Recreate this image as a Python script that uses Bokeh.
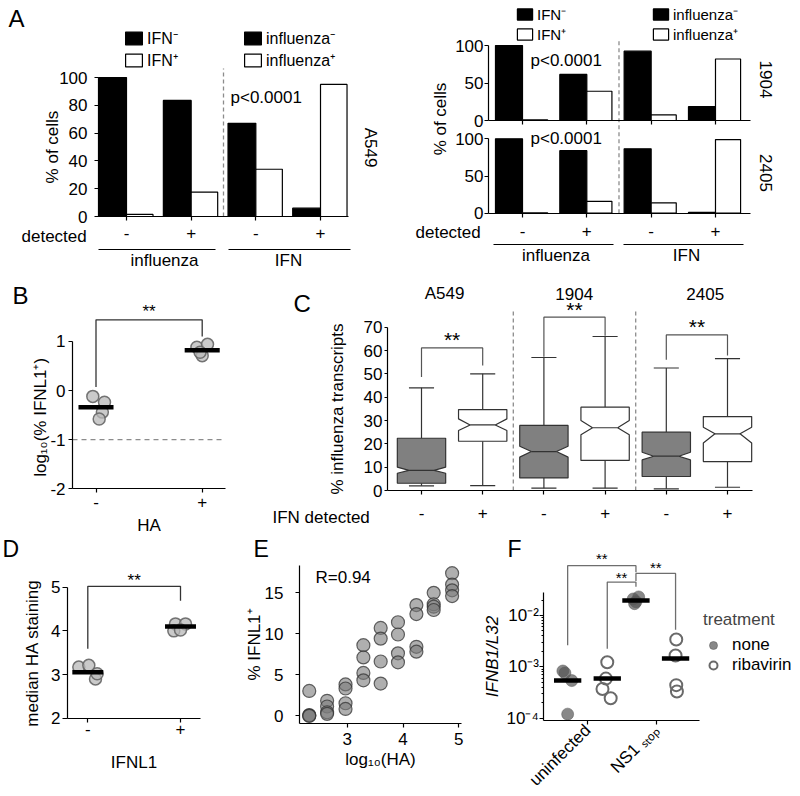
import math
from bokeh.plotting import figure
from bokeh.models import (LinearAxis, LogAxis, Range1d, FixedTicker, LogTicker, Legend, LegendItem,
                          CustomJSTickFormatter, ColumnDataSource, LogScale)
from bokeh.layouts import row, column
from bokeh.embed import file_html
from bokeh.resources import INLINE
from bokeh.core.properties import value
from bokeh.transform import dodge

FONT = "Liberation Sans"

# ======================= DATA =======================
# Panel A : % of cells (section "influenza" = groups 1,2 ; section "IFN" = groups 3,4)
a_flu_groups = [1, 2]
a_ifn_groups = [3, 4]
a_tick_labels = ["-", "+", "-", "+"]
a549_flu_ifn_neg = [100, 83.5]
a549_flu_ifn_pos = [1.5, 17.5]
a549_ifn_flu_neg = [67, 6]
a549_ifn_flu_pos = [34, 95]
c1904_flu_ifn_neg = [100, 61.5]
c1904_flu_ifn_pos = [1, 39]
c1904_ifn_flu_neg = [92.5, 18.5]
c1904_ifn_flu_pos = [7.5, 82]
c2405_flu_ifn_neg = [100, 84]
c2405_flu_ifn_pos = [0.5, 16]
c2405_ifn_flu_neg = [86.5, 1]
c2405_ifn_flu_pos = [14, 99]

# Panel B : log10(% IFNL1+) by HA
b_labels = ["-", "+"]
b_yticks = [-2, -1, 0, 1]
b_ytick_labels = ["-2", "-1", "0", "1"]
b_group = [0, 0, 0, 0, 1, 1, 1, 1]
b_jitter = [-0.03, 0.08, 0.06, 0.03, -0.05, 0.05, 0.0, -0.02]
b_vals = [-0.12, -0.24, -0.44, -0.58, 0.88, 0.94, 0.71, 0.78]
b_means = [-0.34, 0.82]
b_sig = [0.07, 1.44, 1.10]   # left foot, top, right foot

# Panel C : notched boxes, % influenza transcripts
c_lines = ["A549", "1904", "2405"]
c_ifn = ["-", "+", "-", "+", "-", "+"]
c_low = [2.0, 2.1, 1.0, 1.0, 0.7, 1.4]
c_q1 = [3.1, 21.1, 5.4, 12.9, 6.0, 12.4]
c_notch_lo = [7.4, 25.7, 14.3, 23.9, 13.1, 20.4]
c_med = [8.6, 28.1, 16.7, 26.9, 14.7, 24.3]
c_notch_hi = [10.0, 30.7, 19.0, 30.0, 16.4, 27.1]
c_q3 = [22.4, 34.7, 27.9, 35.7, 25.0, 31.7]
c_high = [44.0, 50.0, 57.0, 66.0, 52.5, 56.5]
c_sig_left = [48.6, 57.3, 56.0]
c_sig_top = [61.1, 74.3, 66.7]
c_sig_right = [53.6, 66.3, 57.9]

# Panel D : median HA staining by IFNL1
d_labels = ["-", "+"]
d_group = [0, 0, 0, 0, 1, 1, 1, 1]
d_jitter = [-0.097, 0.011, 0.083, 0.101, -0.054, 0.054, -0.072, 0.0]
d_vals = [3.17, 3.21, 2.90, 3.02, 4.16, 4.16, 4.00, 4.02]
d_means = [3.05, 4.10]
d_sig = [3.59, 5.02, 4.69]

# Panel E : % IFNL1+ vs log10(HA)
e_log_ha = [2.32] * 4 + [2.64] * 4 + [2.97] * 4 + [3.29] * 4 + [3.60] * 4 + \
           [3.91] * 4 + [4.24] * 4 + [4.55] * 4 + [4.88] * 4
e_ifnl1 = [3.0, 0.05, 0.0, -0.05,
           1.8, 1.1, 0.4, 0.2,
           3.8, 3.3, 1.5, 0.8,
           8.6, 7.1, 5.2, 4.3,
           10.7, 9.4, 6.6, 3.9,
           11.4, 9.9, 7.6, 6.5,
           13.5, 12.4, 8.4, 7.8,
           15.0, 13.6, 13.3, 12.9,
           17.4, 16.0, 15.3, 14.6]

# Panel F : IFNB1/L32
f_groups = ["uninfected", "NS1 \u209b\u209c\u2092\u209a"]
f_none_vals = [[8.3e-4, 7.6e-4, 5.4e-4, 1.2e-4], [2.3e-2, 2.1e-2, 1.85e-2, 1.7e-2]]
f_none_jit = [[-0.07, -0.04, 0.06, 0.0], [0.04, -0.04, 0.0, -0.02]]
f_rib_vals = [[1.23e-3, 5.9e-4, 3.7e-4, 2.45e-4], [3.4e-3, 1.66e-3, 4.4e-4, 3.3e-4]]
f_rib_jit = [[0.0, -0.02, -0.07, 0.05], [0.01, 0.0, 0.01, 0.02]]
f_none_center = [5.4e-4, 1.96e-2]
f_rib_center = [5.9e-4, 1.45e-3]
# brackets: (left group, left treatment), (right group, right treatment), left foot, top, right foot
f_sig = [((0, "none"), (1, "none"), 2.63e-3, 9.33e-2, 6.92e-2),
         ((0, "rib"), (1, "none"), 2.24e-3, 4.47e-2, 3.63e-2),
         ((1, "none"), (1, "rib"), 4.68e-2, 6.61e-2, 5.25e-3)]


# ======================= HELPERS =======================
class PanelMap:
    """maps reference-pixel positions to the data space of one canvas"""
    def __init__(self, X0, X1, Y0, Y1, xref, xv, xppu, yref, yv, yppu, ylog=False):
        self.X0, self.X1, self.Y0, self.Y1 = X0, X1, Y0, Y1
        self.xref, self.xv, self.xppu = xref, xv, xppu
        self.yref, self.yv, self.yppu = yref, yv, yppu
        self.ylog = ylog

    def x(self, X):
        return self.xv + (X - self.xref) / self.xppu

    def y(self, Y):
        v = self.yv + (self.yref - Y) / self.yppu
        return 10 ** v if self.ylog else v

    def make(self):
        p = figure(width=int(round(self.X1 - self.X0)), height=int(round(self.Y1 - self.Y0)),
                   x_range=Range1d(self.x(self.X0), self.x(self.X1)),
                   y_range=Range1d(self.y(self.Y1), self.y(self.Y0)),
                   x_axis_type=None, y_axis_type=None, output_backend="svg",
                   toolbar_location=None, title=None)
        if self.ylog:
            p.y_scale = LogScale()
        p.min_border = 0
        p.min_border_left = 0
        p.min_border_right = 0
        p.min_border_top = 0
        p.min_border_bottom = 0
        p.outline_line_color = None
        p.background_fill_color = "white"
        p.border_fill_color = "white"
        return p


def style_axis(ax, size="17px", tick_out=4, standoff=4, label_standoff=4):
    ax.axis_line_color = "black"
    ax.axis_line_width = 1.2
    ax.major_tick_line_color = "black"
    ax.major_tick_line_width = 1.2
    ax.major_tick_in = 0
    ax.major_tick_out = tick_out
    ax.minor_tick_line_color = None
    ax.major_label_text_font = FONT
    ax.major_label_text_font_size = size
    ax.major_label_text_color = "black"
    ax.major_label_standoff = standoff
    ax.axis_label_text_font = FONT
    ax.axis_label_text_font_size = size
    ax.axis_label_text_font_style = "normal"
    ax.axis_label_text_color = "black"
    ax.axis_label_standoff = label_standoff
    return ax


def txt(p, x, y, s, size="17px", align="left", baseline="middle", angle=0.0,
        style="normal", color="black", y_range_name="default"):
    p.text(x=[x], y=[y], text=[s], text_font=value(FONT), text_font_size=size,
           text_align=align, text_baseline=baseline, angle=angle, text_font_style=style,
           text_color=color, y_range_name=y_range_name)


def legend(p, items, loc, size="17px", gw=21, gh=16, standoff=3):
    lg = Legend(items=items, location=loc, orientation="vertical")
    lg.padding = 0
    lg.margin = 0
    lg.spacing = 0
    lg.border_line_color = None
    lg.background_fill_alpha = 0
    lg.glyph_width = gw
    lg.glyph_height = gh
    lg.label_height = 8
    lg.label_standoff = standoff
    lg.label_text_font = FONT
    lg.label_text_font_size = size
    lg.label_text_color = "black"
    p.add_layout(lg)
    return lg


BAR_KW = dict(line_color="black", line_width=1.2)
ROW2_BOTTOM = 535

# ======================= PANEL A (A549) =======================
mA1 = PanelMap(0, 388, 0, 270, xref=126, xv=1, xppu=64.67, yref=216, yv=0, yppu=1.39)
pA1 = mA1.make()
sA1f = ColumnDataSource(dict(g=a_flu_groups, neg=a549_flu_ifn_neg, pos=a549_flu_ifn_pos))
sA1i = ColumnDataSource(dict(g=a_ifn_groups, neg=a549_ifn_flu_neg, pos=a549_ifn_flu_pos))
rA1 = pA1.vbar(x=dodge("g", -0.215), top="neg", width=0.43, source=sA1f, fill_color="black", **BAR_KW)
rA2 = pA1.vbar(x=dodge("g", 0.205), top="pos", width=0.41, source=sA1f, fill_color="white", **BAR_KW)
rA3 = pA1.vbar(x=dodge("g", -0.215), top="neg", width=0.43, source=sA1i, fill_color="black", **BAR_KW)
rA4 = pA1.vbar(x=dodge("g", 0.205), top="pos", width=0.41, source=sA1i, fill_color="white", **BAR_KW)
pA1.segment(x0=[2.5], y0=[0], x1=[2.5], y1=[mA1.y(68)], line_color="#8c8c8c", line_width=1.3, line_dash="4 3")

ya = style_axis(LinearAxis(fixed_location=mA1.x(98), bounds=(0, 100),
                           ticker=FixedTicker(ticks=[0, 20, 40, 60, 80, 100]), axis_label="% of cells"),
                standoff=7, label_standoff=-6)
pA1.add_layout(ya, "left")
xa = style_axis(LinearAxis(fixed_location=0, bounds=(mA1.x(98), mA1.x(348)),
                           ticker=FixedTicker(ticks=[1, 2, 3, 4]),
                           major_label_overrides=dict(zip([1, 2, 3, 4], a_tick_labels))), standoff=6)
pA1.add_layout(xa, "below")

legend(pA1, [LegendItem(label="IFN\u207b", renderers=[rA1]), LegendItem(label="IFN\u207a", renderers=[rA2])],
       (123, 199), size="16px")
legend(pA1, [LegendItem(label="influenza\u207b", renderers=[rA3]), LegendItem(label="influenza\u207a", renderers=[rA4])],
       (242, 199), size="16px")

txt(pA1, mA1.x(8), mA1.y(18), "A", size="24px")
txt(pA1, mA1.x(230), mA1.y(97), "p<0.0001")
txt(pA1, mA1.x(370), mA1.y(147), "A549", align="center", angle=-math.pi / 2)
txt(pA1, mA1.x(21), mA1.y(236), "detected")
pA1.segment(x0=[mA1.x(98), mA1.x(228)], y0=[mA1.y(249)] * 2, x1=[mA1.x(215), mA1.x(350)], y1=[mA1.y(249)] * 2,
            line_color="black", line_width=1.2)
txt(pA1, mA1.x(164), mA1.y(260), "influenza", align="center")
txt(pA1, mA1.x(288), mA1.y(260), "IFN", align="center")

# ======================= PANEL A (1904 / 2405) =======================
mA2 = PanelMap(388, 796, 0, 270, xref=522, xv=1, xppu=64.33, yref=212.7, yv=0, yppu=0.744)
pA2 = mA2.make()


def ytop(Y):
    return (120 - Y) / 0.75


pA2.extra_y_ranges = {"top": Range1d(ytop(270), ytop(0))}

sT_f = ColumnDataSource(dict(g=a_flu_groups, neg=c1904_flu_ifn_neg, pos=c1904_flu_ifn_pos))
sT_i = ColumnDataSource(dict(g=a_ifn_groups, neg=c1904_ifn_flu_neg, pos=c1904_ifn_flu_pos))
sB_f = ColumnDataSource(dict(g=a_flu_groups, neg=c2405_flu_ifn_neg, pos=c2405_flu_ifn_pos))
sB_i = ColumnDataSource(dict(g=a_ifn_groups, neg=c2405_ifn_flu_neg, pos=c2405_ifn_flu_pos))
rT1 = pA2.vbar(x=dodge("g", -0.21), top="neg", width=0.42, source=sT_f, fill_color="black", y_range_name="top", **BAR_KW)
rT2 = pA2.vbar(x=dodge("g", 0.195), top="pos", width=0.39, source=sT_f, fill_color="white", y_range_name="top", **BAR_KW)
rT3 = pA2.vbar(x=dodge("g", -0.21), top="neg", width=0.42, source=sT_i, fill_color="black", y_range_name="top", **BAR_KW)
rT4 = pA2.vbar(x=dodge("g", 0.195), top="pos", width=0.39, source=sT_i, fill_color="white", y_range_name="top", **BAR_KW)
pA2.vbar(x=dodge("g", -0.21), top="neg", width=0.42, source=sB_f, fill_color="black", **BAR_KW)
pA2.vbar(x=dodge("g", 0.195), top="pos", width=0.39, source=sB_f, fill_color="white", **BAR_KW)
pA2.vbar(x=dodge("g", -0.21), top="neg", width=0.42, source=sB_i, fill_color="black", **BAR_KW)
pA2.vbar(x=dodge("g", 0.195), top="pos", width=0.39, source=sB_i, fill_color="white", **BAR_KW)
pA2.segment(x0=[2.5], y0=[0], x1=[2.5], y1=[mA2.y(40)], line_color="#8c8c8c", line_width=1.3, line_dash="4 3")

for rn in ("default", "top"):
    yax = style_axis(LinearAxis(fixed_location=mA2.x(488), bounds=(0, 100), y_range_name=rn,
                                ticker=FixedTicker(ticks=[0, 50, 100])), standoff=1)
    pA2.add_layout(yax, "left")
xb = style_axis(LinearAxis(fixed_location=0, bounds=(mA2.x(488), mA2.x(750)),
                           ticker=FixedTicker(ticks=[1, 2, 3, 4]),
                           major_label_overrides=dict(zip([1, 2, 3, 4], a_tick_labels))), standoff=8)
pA2.add_layout(xb, "below")
xt = style_axis(LinearAxis(fixed_location=0, bounds=(mA2.x(488), mA2.x(750)), y_range_name="top",
                           ticker=FixedTicker(ticks=[1, 2, 3, 4]),
                           major_label_overrides={1: "", 2: "", 3: "", 4: ""}))
pA2.add_layout(xt, "below")

legend(pA2, [LegendItem(label="IFN\u207b", renderers=[rT1]), LegendItem(label="IFN\u207a", renderers=[rT2])],
       (127, 226), size="15px", gw=19, gh=14)
legend(pA2, [LegendItem(label="influenza\u207b", renderers=[rT3]), LegendItem(label="influenza\u207a", renderers=[rT4])],
       (263, 226), size="15px", gw=19, gh=14)

txt(pA2, mA2.x(530), ytop(60), "p<0.0001", y_range_name="top")
txt(pA2, mA2.x(530), mA2.y(138), "p<0.0001")
txt(pA2, mA2.x(765), ytop(79), "1904", align="center", angle=-math.pi / 2, y_range_name="top")
txt(pA2, mA2.x(765), mA2.y(172.5), "2405", align="center", angle=-math.pi / 2)
txt(pA2, mA2.x(439.5), mA2.y(118.5), "% of cells", align="center", angle=math.pi / 2)
txt(pA2, mA2.x(415), mA2.y(232.3), "detected")
pA2.segment(x0=[mA2.x(493), mA2.x(623)], y0=[mA2.y(244)] * 2, x1=[mA2.x(613), mA2.x(743)], y1=[mA2.y(244)] * 2,
            line_color="black", line_width=1.2)
txt(pA2, mA2.x(555.5), mA2.y(255), "influenza", align="center")
txt(pA2, mA2.x(686), mA2.y(255), "IFN", align="center")

# ======================= PANEL B =======================
mB = PanelMap(0, 270, 270, ROW2_BOTTOM, xref=95.5, xv=0, xppu=106.2, yref=390, yv=0, yppu=49.1)
pB = mB.make()
x_left, x_right = mB.x(72), mB.x(225)
pB.segment(x0=[x_left], y0=[-1], x1=[x_right], y1=[-1], line_color="#8c8c8c", line_width=1.3, line_dash="5 4")
pB.scatter(x=[g + j for g, j in zip(b_group, b_jitter)], y=b_vals, size=12, marker="circle",
           fill_color="#b8b8b8", fill_alpha=0.75, line_color="#666666", line_alpha=0.9, line_width=1.5)
pB.segment(x0=[i - 0.165 for i in range(2)], y0=b_means, x1=[i + 0.165 for i in range(2)], y1=b_means,
           line_color="black", line_width=4.5)
pB.multi_line(xs=[[0, 0, 1, 1]], ys=[[b_sig[0], b_sig[1], b_sig[1], b_sig[2]]], line_color="#333333", line_width=1.3)
txt(pB, 0.5, mB.y(308 + 3), "**", size="17px", align="center")
yb = style_axis(LinearAxis(fixed_location=x_left, bounds=(-2, 1), ticker=FixedTicker(ticks=b_yticks),
                           major_label_overrides=dict(zip(b_yticks, b_ytick_labels)),
                           axis_label="log\u2081\u2080(%  IFNL1\u207a)"), standoff=3, label_standoff=-3)
pB.add_layout(yb, "left")
xbb = style_axis(LinearAxis(fixed_location=-2, bounds=(x_left, x_right), ticker=FixedTicker(ticks=[0, 1]),
                            major_label_overrides=dict(zip([0, 1], b_labels)), axis_label="HA"),
                 standoff=3, label_standoff=5)
pB.add_layout(xbb, "below")
txt(pB, mB.x(12), mB.y(295), "B", size="24px")

# ======================= PANEL C =======================
mC = PanelMap(270, 796, 270, ROW2_BOTTOM, xref=421, xv=1, xppu=61.2, yref=490, yv=0, yppu=2.333)
pC = mC.make()
c_pos = list(range(1, 7))
BW, IND, CAP = 0.79, 0.19, 0.41
pC.segment(x0=[2.5, 4.5], y0=[0, 0], x1=[2.5, 4.5], y1=[mC.y(310)] * 2,
           line_color="#8c8c8c", line_width=1.3, line_dash="4 3")
pC.segment(x0=c_pos, y0=c_q3, x1=c_pos, y1=c_high, line_color="#333333", line_width=1.2)
pC.segment(x0=c_pos, y0=c_q1, x1=c_pos, y1=c_low, line_color="#333333", line_width=1.2)
pC.segment(x0=[c - CAP / 2 for c in c_pos], y0=c_high, x1=[c + CAP / 2 for c in c_pos], y1=c_high,
           line_color="#333333", line_width=1.2)
pC.segment(x0=[c - CAP / 2 for c in c_pos], y0=c_low, x1=[c + CAP / 2 for c in c_pos], y1=c_low,
           line_color="#333333", line_width=1.2)
box_xs, box_ys = [], []
for c, q1, nlo, med, nhi, q3 in zip(c_pos, c_q1, c_notch_lo, c_med, c_notch_hi, c_q3):
    h = BW / 2
    box_xs.append([c - h, c + h, c + h, c + h - IND, c + h, c + h, c - h, c - h, c - h + IND, c - h])
    box_ys.append([q1, q1, nlo, med, nhi, q3, q3, nhi, med, nlo])
pC.patches(xs=box_xs, ys=box_ys, fill_color=["#808080" if s == "-" else "white" for s in c_ifn],
           line_color="#333333", line_width=1.2)
pC.segment(x0=[c - BW / 2 + IND for c in c_pos], y0=c_med, x1=[c + BW / 2 - IND for c in c_pos], y1=c_med,
           line_color="#333333", line_width=1.2)
sig_xs = [[2 * i + 1, 2 * i + 1, 2 * i + 2, 2 * i + 2] for i in range(3)]
sig_ys = [[l, t, t, r] for l, t, r in zip(c_sig_left, c_sig_top, c_sig_right)]
pC.multi_line(xs=sig_xs, ys=sig_ys, line_color="#555555", line_width=1.2)
for i, t in enumerate(c_sig_top):
    txt(pC, 2 * i + 1.5, t + 8 / 2.333, "**", size="21px", align="center")
for name, Xc in zip(c_lines, [444, 573.7, 704.7]):
    txt(pC, mC.x(Xc), mC.y(293.3), name, align="center")
yc = style_axis(LinearAxis(fixed_location=mC.x(387), bounds=(0, 70), ticker=FixedTicker(ticks=list(range(0, 71, 10))),
                           axis_label="% influenza transcripts"), tick_out=3, standoff=2, label_standoff=14)
pC.add_layout(yc, "left")
xc = style_axis(LinearAxis(fixed_location=0, bounds=(mC.x(387), mC.x(752)), ticker=FixedTicker(ticks=c_pos),
                           major_label_overrides=dict(zip(c_pos, c_ifn))), standoff=12)
pC.add_layout(xc, "below")
txt(pC, mC.x(272), mC.y(516.7), "IFN detected")
txt(pC, mC.x(293), mC.y(303), "C", size="24px")

# ======================= PANEL D =======================
mD = PanelMap(0, 240, ROW2_BOTTOM, 792, xref=87.3, xv=0, xppu=92.7, yref=586.7, yv=5, yppu=43.67)
pD = mD.make()
dxl, dxr = mD.x(67), mD.x(200)
pD.scatter(x=[g + j for g, j in zip(d_group, d_jitter)], y=d_vals, size=12, marker="circle",
           fill_color="#b8b8b8", fill_alpha=0.75, line_color="#666666", line_alpha=0.9, line_width=1.5)
pD.segment(x0=[i - 0.167 for i in range(2)], y0=d_means, x1=[i + 0.167 for i in range(2)], y1=d_means,
           line_color="black", line_width=4.5)
pD.multi_line(xs=[[0, 0, 1, 1]], ys=[[d_sig[0], d_sig[1], d_sig[1], d_sig[2]]], line_color="#333333", line_width=1.3)
txt(pD, 0.5, mD.y(576.7 + 3), "**", size="17px", align="center")
yd = style_axis(LinearAxis(fixed_location=dxl, bounds=(2, 5), ticker=FixedTicker(ticks=[2, 3, 4, 5]),
                           axis_label="median HA staining"), tick_out=5, standoff=2, label_standoff=6)
pD.add_layout(yd, "left")
xd = style_axis(LinearAxis(fixed_location=2, bounds=(dxl, dxr), ticker=FixedTicker(ticks=[0, 1]),
                           major_label_overrides=dict(zip([0, 1], d_labels)), axis_label="IFNL1"),
                standoff=1, label_standoff=14)
pD.add_layout(xd, "below")
txt(pD, mD.x(2), mD.y(548), "D", size="23px")

# ======================= PANEL E =======================
mE = PanelMap(240, 480, ROW2_BOTTOM, 792, xref=346.7, xv=3, xppu=55.8, yref=715, yv=0, yppu=8.18)
pE = mE.make()
pE.scatter(x=e_log_ha, y=e_ifnl1, size=13, marker="circle", fill_color="#7a7a7a", fill_alpha=0.6,
           line_color="#333333", line_alpha=0.75, line_width=1.2)
ey0, ey1 = mE.y(723), mE.y(565)
ye = style_axis(LinearAxis(fixed_location=mE.x(299), bounds=(ey0, ey1), ticker=FixedTicker(ticks=[0, 5, 10, 15]),
                           axis_label="% IFNL1\u207a"), standoff=12, label_standoff=-2)
pE.add_layout(ye, "left")
xe = style_axis(LinearAxis(fixed_location=ey0, bounds=(mE.x(299), mE.x(461)), ticker=FixedTicker(ticks=[3, 4, 5]),
                           axis_label="log\u2081\u2080(HA)"), standoff=5, label_standoff=2)
pE.add_layout(xe, "below")
txt(pE, mE.x(315), mE.y(576.7), "R=0.94")
txt(pE, mE.x(253), mE.y(548), "E", size="23px")

# ======================= PANEL F =======================
mF = PanelMap(480, 796, ROW2_BOTTOM, 792, xref=587.3, xv=1, xppu=68.3, yref=615, yv=-2, yppu=51.35, ylog=True)
pF = mF.make()
DODGE = {"none": -0.295, "rib": 0.285}
fx_none, fy_none, fx_rib, fy_rib = [], [], [], []
for gi in range(2):
    for v, j in zip(f_none_vals[gi], f_none_jit[gi]):
        fx_none.append(gi + 1 + DODGE["none"] + j)
        fy_none.append(v)
    for v, j in zip(f_rib_vals[gi], f_rib_jit[gi]):
        fx_rib.append(gi + 1 + DODGE["rib"] + j)
        fy_rib.append(v)
sig_xs, sig_ys = [], []
for (lg_, lt), (rg, rt), lf, top, rf in f_sig:
    xl = lg_ + 1 + DODGE[lt]
    xr = rg + 1 + DODGE[rt]
    sig_xs.append([xl, xl, xr, xr])
    sig_ys.append([lf, top, top, rf])
pF.multi_line(xs=sig_xs, ys=sig_ys, line_color="#6e6e6e", line_width=1.3)
star_y = {0: -0.83, 1: -1.19, 2: -0.99}
for i, ((lg_, lt), (rg, rt), lf, top, rf) in enumerate(f_sig):
    xm = ((lg_ + 1 + DODGE[lt]) + (rg + 1 + DODGE[rt])) / 2
    txt(pF, xm, 10 ** (star_y[i] - 3.5 / 51.35), "**", size="15px", align="center")
r_none = pF.scatter(x=fx_none, y=fy_none, size=12, marker="circle", fill_color="#555555", fill_alpha=0.7,
                    line_color="#555555", line_alpha=0.5)
r_rib = pF.scatter(x=fx_rib, y=fy_rib, size=12, marker="circle", fill_color=None,
                   line_color="#6a6a6a", line_width=2)
pF.segment(x0=[g + 1 + DODGE["none"] - 0.2 for g in range(2)], y0=f_none_center,
           x1=[g + 1 + DODGE["none"] + 0.2 for g in range(2)], y1=f_none_center, line_color="black", line_width=4.5)
pF.segment(x0=[g + 1 + DODGE["rib"] - 0.2 for g in range(2)], y0=f_rib_center,
           x1=[g + 1 + DODGE["rib"] + 0.2 for g in range(2)], y1=f_rib_center, line_color="black", line_width=4.5)
fy_lo, fy_hi = mF.y(720), mF.y(592)
yf = LogAxis(fixed_location=mF.x(543.3), bounds=(fy_lo, fy_hi), ticker=LogTicker(num_minor_ticks=10),
             axis_label="IFNB1/L32",
             formatter=CustomJSTickFormatter(code="""
const sup = {"-":"\u207b","0":"\u2070","1":"\u00b9","2":"\u00b2","3":"\u00b3","4":"\u2074",
             "5":"\u2075","6":"\u2076","7":"\u2077","8":"\u2078","9":"\u2079"};
const e = Math.round(Math.log10(tick));
return "10" + String(e).split("").map(c => sup[c]).join("");
"""))
style_axis(yf, tick_out=4, standoff=1, label_standoff=1)
yf.minor_tick_line_color = "black"
yf.minor_tick_out = 2
yf.minor_tick_in = 0
yf.axis_label_text_font_style = "italic"
pF.add_layout(yf, "left")
xf = style_axis(LinearAxis(fixed_location=fy_lo, bounds=(mF.x(543.3), mF.x(699.3)), ticker=FixedTicker(ticks=[1, 2]),
                           major_label_overrides=dict(zip([1, 2], f_groups))), standoff=3)
xf.major_label_orientation = math.pi / 4
pF.add_layout(xf, "below")
lgF = legend(pF, [LegendItem(label="none", renderers=[r_none]), LegendItem(label="ribavirin", renderers=[r_rib])],
             (223, 117), size="17px", gw=20, gh=20, standoff=9)
lgF.title = "treatment"
lgF.title_text_font = FONT
lgF.title_text_font_size = "17px"
lgF.title_text_font_style = "normal"
lgF.title_standoff = 5
txt(pF, mF.x(507), mF.y(548), "F", size="23px")

layout = column(row(pA1, pA2, spacing=0), row(pB, pC, spacing=0), row(pD, pE, pF, spacing=0), spacing=0)
open("out.html", "w").write(file_html(layout, INLINE))
